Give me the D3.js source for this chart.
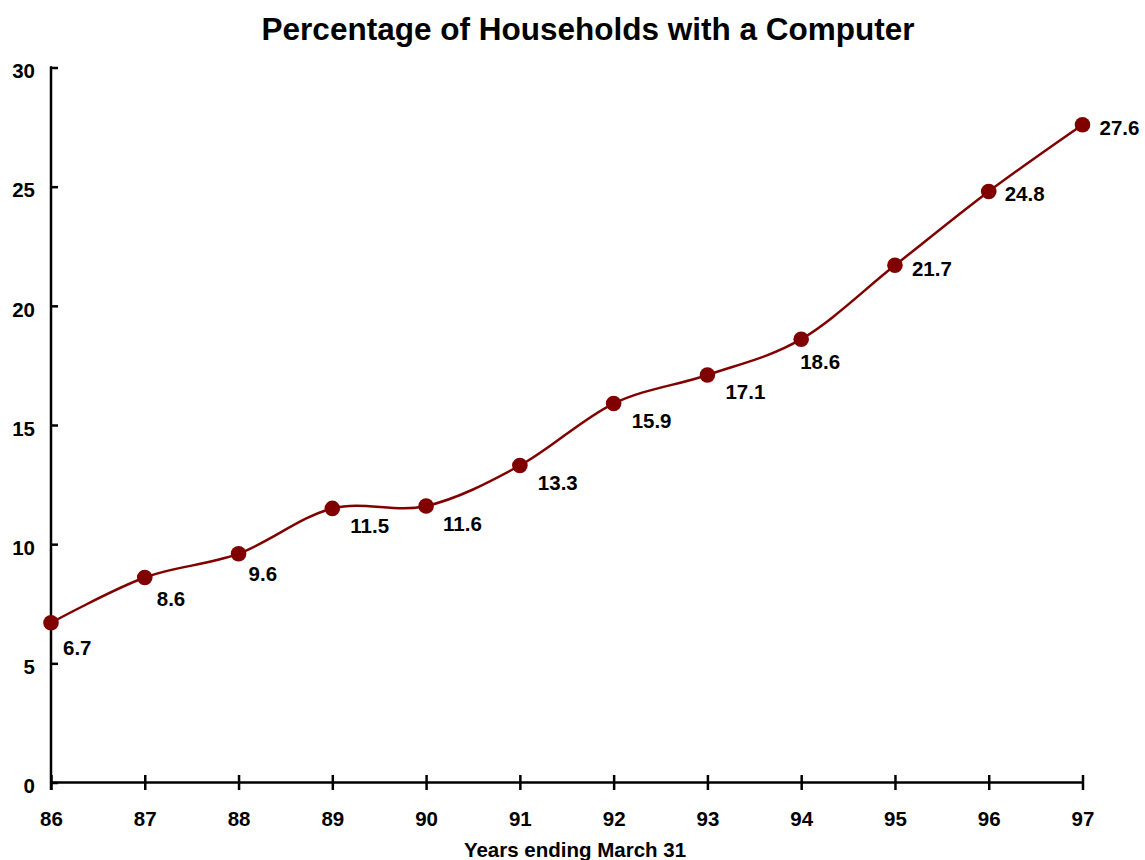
<!DOCTYPE html>
<html>
<head>
<meta charset="utf-8">
<script src="https://cdn.jsdelivr.net/npm/d3@7"></script>
<style>
  html, body { margin: 0; padding: 0; background: #fff; }
  svg { display: block; }
  text { font-family: "Liberation Sans", Arial, sans-serif; font-weight: bold; fill: #000; }
</style>
</head>
<body>
<svg id="chart" width="1145" height="860"></svg>
<script>
// Fiscal years (ending March 31) and share of households owning a computer (%)
const years = [86, 87, 88, 89, 90, 91, 92, 93, 94, 95, 96, 97];
const percentages = [6.7, 8.6, 9.6, 11.5, 11.6, 13.3, 15.9, 17.1, 18.6, 21.7, 24.8, 27.6];
const yTickValues = [0, 5, 10, 15, 20, 25, 30];
const yearLabels = ["86", "87", "88", "89", "90", "91", "92", "93", "94", "95", "96", "97"];

// Per-point placement of the value labels relative to their marker [dx, dy]
const labelOffsets = [
  [12, 32], [12, 28], [10, 27], [18, 25], [17, 25], [18, 24],
  [18, 24], [18, 24], [-1, 30], [17, 11], [16, 10], [17, 10]
];

const lineColor = "#800000";
const labelSize = "20.5px";
const svg = d3.select("#chart");

const x = d3.scaleLinear().domain([86, 97]).range([51, 1082.5]);
const y = d3.scaleLinear().domain([0, 30]).range([782.5, 67.5]);

// Title
svg.append("text")
  .attr("x", 588).attr("y", 40)
  .attr("text-anchor", "middle")
  .style("font-size", "31.5px")
  .text("Percentage of Households with a Computer");

// Y axis: ticks point into the plot area
const yAxis = d3.axisRight(y).tickValues(yTickValues).tickSize(7).tickFormat(d3.format("d"));
const gy = svg.append("g").attr("transform", "translate(51,0)").call(yAxis);
gy.select(".domain").remove();
gy.selectAll(".tick line").attr("stroke", "#000").attr("stroke-width", 2.5);
gy.selectAll(".tick text")
  .attr("x", -16).attr("dy", 0).attr("y", 10.3)
  .attr("text-anchor", "end")
  .style("font-size", labelSize);
gy.append("line")
  .attr("x1", 0).attr("x2", 0)
  .attr("y1", y(30) - 1.2).attr("y2", y(0) + 7.5)
  .attr("stroke", "#000").attr("stroke-width", 2.5);

// X axis: ticks cross the axis line
const xAxis = d3.axisBottom(x).tickValues(years).tickSize(0)
  .tickFormat((d, i) => yearLabels[i]);
const gx = svg.append("g").attr("transform", `translate(0,${y(0)})`).call(xAxis);
gx.select(".domain").remove();
gx.append("line")
  .attr("x1", x(86)).attr("x2", x(97))
  .attr("stroke", "#000").attr("stroke-width", 2.5);
gx.selectAll(".tick").append("line")
  .attr("y1", -7.5).attr("y2", 7.5)
  .attr("stroke", "#000").attr("stroke-width", 2.5);
gx.selectAll(".tick text")
  .attr("y", 43.5).attr("dy", 0)
  .style("font-size", labelSize);

// Axis title
svg.append("text")
  .attr("x", 575).attr("y", 857)
  .attr("text-anchor", "middle")
  .style("font-size", labelSize)
  .text("Years ending March 31");

// Smoothed series line
const points = years.map((yr, i) => ({ yr, v: percentages[i], off: labelOffsets[i] }));
const line = d3.line()
  .x(d => x(d.yr))
  .y(d => y(d.v))
  .curve(d3.curveCardinal.tension(0));

svg.append("path")
  .datum(points)
  .attr("fill", "none")
  .attr("stroke", lineColor)
  .attr("stroke-width", 2.5)
  .attr("d", line);

// Markers
svg.append("g").selectAll("circle")
  .data(points)
  .join("circle")
  .attr("cx", d => x(d.yr))
  .attr("cy", d => y(d.v))
  .attr("r", 7.8)
  .attr("fill", lineColor);

// Value labels
svg.append("g").selectAll("text")
  .data(points)
  .join("text")
  .attr("x", d => x(d.yr) + d.off[0])
  .attr("y", d => y(d.v) + d.off[1])
  .style("font-size", labelSize)
  .text(d => d3.format(".1f")(d.v));
</script>
</body>
</html>
